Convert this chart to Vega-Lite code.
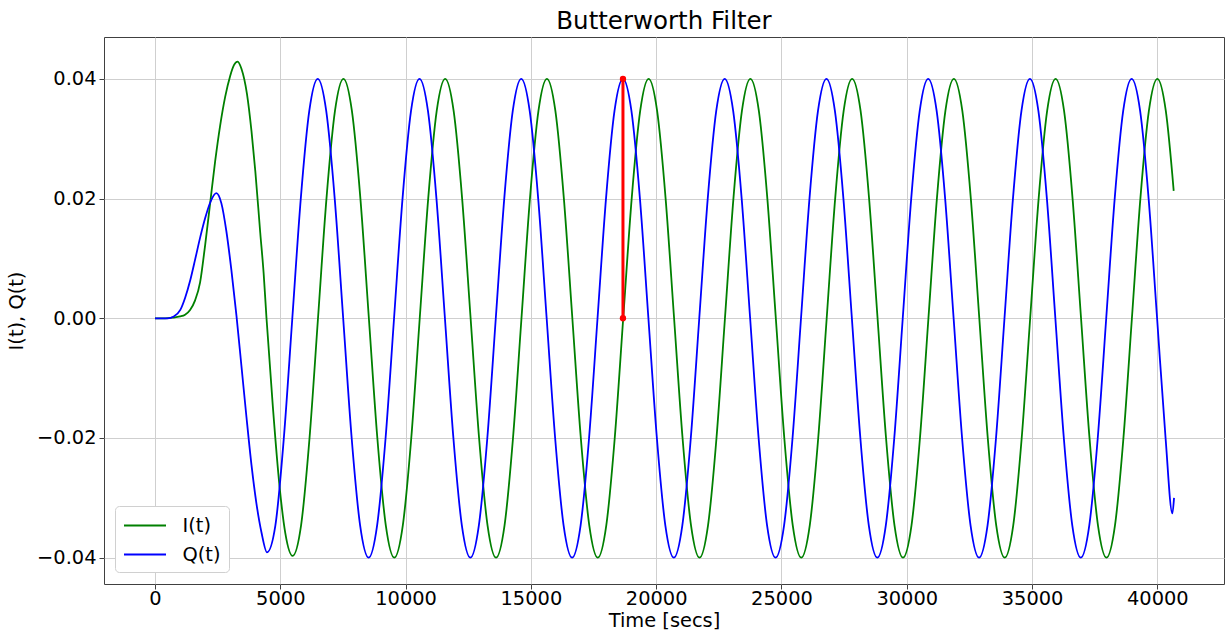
{
  "$schema": "https://vega.github.io/schema/vega-lite/v6.json",
  "autosize": {"type": "none"},
  "padding": {"left": 104, "top": 37, "right": 1, "bottom": 49},
  "width": 1120,
  "height": 547,
  "background": "white",
  "title": {"text": "Butterworth Filter", "fontSize": 24.5, "font": "DejaVu Sans", "fontWeight": "normal", "color": "#000000", "offset": 3},
  "config": {
    "view": {"stroke": "#404040", "strokeWidth": 1},
    "axis": {
      "labelFont": "DejaVu Sans", "titleFont": "DejaVu Sans",
      "labelFontSize": 19.4, "titleFontSize": 19.4,
      "labelColor": "#000000", "titleColor": "#000000",
      "titleFontWeight": "normal",
      "domain": false,
      "tickColor": "#404040", "tickSize": 5,
      "gridColor": "#cfcfcf", "gridWidth": 1,
      "labelPadding": 3
    },
    "legend": {
      "labelFont": "DejaVu Sans", "labelFontSize": 19.4, "labelColor": "#000000"
    }
  },
  "datasets": {
    "iq": [
      {"s":"I(t)","t":0,"v":0},{"s":"I(t)","t":400,"v":0},{"s":"I(t)","t":700,"v":0.0001},{"s":"I(t)","t":1000,"v":0.0003},
      {"s":"I(t)","t":1200,"v":0.0006},{"s":"I(t)","t":1400,"v":0.0014},{"s":"I(t)","t":1600,"v":0.003},{"s":"I(t)","t":1800,"v":0.006},
      {"s":"I(t)","t":2000,"v":0.0122},{"s":"I(t)","t":2200,"v":0.0192},{"s":"I(t)","t":2400,"v":0.0262},{"s":"I(t)","t":2600,"v":0.0322},
      {"s":"I(t)","t":2800,"v":0.037},{"s":"I(t)","t":3000,"v":0.0405},{"s":"I(t)","t":3150,"v":0.0423},{"s":"I(t)","t":3297,"v":0.0429},
      {"s":"I(t)","t":3450,"v":0.0417},{"s":"I(t)","t":3670,"v":0.0375},{"s":"I(t)","t":3850,"v":0.0313},{"s":"I(t)","t":4003,"v":0.0246},
      {"s":"I(t)","t":4200,"v":0.0143},{"s":"I(t)","t":4336,"v":0.0075},{"s":"I(t)","t":4450,"v":0},{"s":"I(t)","t":4700,"v":-0.0146},
      {"s":"I(t)","t":4973,"v":-0.0282},{"s":"I(t)","t":5200,"v":-0.0359},{"s":"I(t)","t":5491,"v":-0.0397},{"s":"I(t)","t":5828,"v":-0.03464},
      {"s":"I(t)","t":6167,"v":-0.02},{"s":"I(t)","t":6505,"v":0},{"s":"I(t)","t":6843,"v":0.02},{"s":"I(t)","t":7182,"v":0.03464},
      {"s":"I(t)","t":7520,"v":0.04},{"s":"I(t)","t":7858,"v":0.03464},{"s":"I(t)","t":8197,"v":0.02},{"s":"I(t)","t":8535,"v":0},{"s":"I(t)","t":8873,"v":-0.02},{"s":"I(t)","t":9212,"v":-0.03464},{"s":"I(t)","t":9550,"v":-0.04},{"s":"I(t)","t":9888,"v":-0.03464},{"s":"I(t)","t":10227,"v":-0.02},{"s":"I(t)","t":10565,"v":0},{"s":"I(t)","t":10903,"v":0.02},{"s":"I(t)","t":11242,"v":0.03464},
      {"s":"I(t)","t":11580,"v":0.04},{"s":"I(t)","t":11918,"v":0.03464},{"s":"I(t)","t":12257,"v":0.02},{"s":"I(t)","t":12595,"v":0},{"s":"I(t)","t":12933,"v":-0.02},{"s":"I(t)","t":13272,"v":-0.03464},{"s":"I(t)","t":13610,"v":-0.04},{"s":"I(t)","t":13948,"v":-0.03464},{"s":"I(t)","t":14287,"v":-0.02},{"s":"I(t)","t":14625,"v":0},{"s":"I(t)","t":14963,"v":0.02},{"s":"I(t)","t":15302,"v":0.03464},
      {"s":"I(t)","t":15640,"v":0.04},{"s":"I(t)","t":15978,"v":0.03464},{"s":"I(t)","t":16317,"v":0.02},{"s":"I(t)","t":16655,"v":0},{"s":"I(t)","t":16993,"v":-0.02},{"s":"I(t)","t":17332,"v":-0.03464},{"s":"I(t)","t":17670,"v":-0.04},{"s":"I(t)","t":18008,"v":-0.03464},{"s":"I(t)","t":18347,"v":-0.02},{"s":"I(t)","t":18685,"v":0},{"s":"I(t)","t":19023,"v":0.02},{"s":"I(t)","t":19362,"v":0.03464},
      {"s":"I(t)","t":19700,"v":0.04},{"s":"I(t)","t":20038,"v":0.03464},{"s":"I(t)","t":20377,"v":0.02},{"s":"I(t)","t":20715,"v":0},{"s":"I(t)","t":21053,"v":-0.02},{"s":"I(t)","t":21392,"v":-0.03464},{"s":"I(t)","t":21730,"v":-0.04},{"s":"I(t)","t":22068,"v":-0.03464},{"s":"I(t)","t":22407,"v":-0.02},{"s":"I(t)","t":22745,"v":0},{"s":"I(t)","t":23083,"v":0.02},{"s":"I(t)","t":23422,"v":0.03464},
      {"s":"I(t)","t":23760,"v":0.04},{"s":"I(t)","t":24098,"v":0.03464},{"s":"I(t)","t":24437,"v":0.02},{"s":"I(t)","t":24775,"v":0},{"s":"I(t)","t":25113,"v":-0.02},{"s":"I(t)","t":25452,"v":-0.03464},{"s":"I(t)","t":25790,"v":-0.04},{"s":"I(t)","t":26128,"v":-0.03464},{"s":"I(t)","t":26467,"v":-0.02},{"s":"I(t)","t":26805,"v":0},{"s":"I(t)","t":27143,"v":0.02},{"s":"I(t)","t":27482,"v":0.03464},
      {"s":"I(t)","t":27820,"v":0.04},{"s":"I(t)","t":28158,"v":0.03464},{"s":"I(t)","t":28497,"v":0.02},{"s":"I(t)","t":28835,"v":0},{"s":"I(t)","t":29173,"v":-0.02},{"s":"I(t)","t":29512,"v":-0.03464},{"s":"I(t)","t":29850,"v":-0.04},{"s":"I(t)","t":30188,"v":-0.03464},{"s":"I(t)","t":30527,"v":-0.02},{"s":"I(t)","t":30865,"v":0},{"s":"I(t)","t":31203,"v":0.02},{"s":"I(t)","t":31542,"v":0.03464},
      {"s":"I(t)","t":31880,"v":0.04},{"s":"I(t)","t":32218,"v":0.03464},{"s":"I(t)","t":32557,"v":0.02},{"s":"I(t)","t":32895,"v":0},{"s":"I(t)","t":33233,"v":-0.02},{"s":"I(t)","t":33572,"v":-0.03464},{"s":"I(t)","t":33910,"v":-0.04},{"s":"I(t)","t":34248,"v":-0.03464},{"s":"I(t)","t":34587,"v":-0.02},{"s":"I(t)","t":34925,"v":0},{"s":"I(t)","t":35263,"v":0.02},{"s":"I(t)","t":35602,"v":0.03464},
      {"s":"I(t)","t":35940,"v":0.04},{"s":"I(t)","t":36278,"v":0.03464},{"s":"I(t)","t":36617,"v":0.02},{"s":"I(t)","t":36955,"v":0},{"s":"I(t)","t":37293,"v":-0.02},{"s":"I(t)","t":37632,"v":-0.03464},{"s":"I(t)","t":37970,"v":-0.04},{"s":"I(t)","t":38308,"v":-0.03464},{"s":"I(t)","t":38647,"v":-0.02},{"s":"I(t)","t":38985,"v":0},{"s":"I(t)","t":39323,"v":0.02},{"s":"I(t)","t":39662,"v":0.03464},
      {"s":"I(t)","t":40000,"v":0.04},{"s":"I(t)","t":40338,"v":0.03464},{"s":"I(t)","t":40653,"v":0.0213},

      {"s":"Q(t)","t":0,"v":0},{"s":"Q(t)","t":500,"v":0},{"s":"Q(t)","t":750,"v":0.0003},{"s":"Q(t)","t":1010,"v":0.0014},
      {"s":"Q(t)","t":1200,"v":0.0034},{"s":"Q(t)","t":1409,"v":0.0064},{"s":"Q(t)","t":1600,"v":0.0098},{"s":"Q(t)","t":1808,"v":0.0136},
      {"s":"Q(t)","t":2000,"v":0.0167},{"s":"Q(t)","t":2200,"v":0.0193},{"s":"Q(t)","t":2446,"v":0.0209},{"s":"Q(t)","t":2650,"v":0.0192},
      {"s":"Q(t)","t":2850,"v":0.0145},{"s":"Q(t)","t":3050,"v":0.008},{"s":"Q(t)","t":3250,"v":0.0005},{"s":"Q(t)","t":3450,"v":-0.008},
      {"s":"Q(t)","t":3650,"v":-0.0165},{"s":"Q(t)","t":3850,"v":-0.0245},{"s":"Q(t)","t":4050,"v":-0.031},{"s":"Q(t)","t":4250,"v":-0.0358},
      {"s":"Q(t)","t":4470,"v":-0.0391},{"s":"Q(t)","t":4803,"v":-0.03464},{"s":"Q(t)","t":5142,"v":-0.02},{"s":"Q(t)","t":5480,"v":0},
      {"s":"Q(t)","t":5818,"v":0.02},{"s":"Q(t)","t":6157,"v":0.03464},
      {"s":"Q(t)","t":6495,"v":0.04},{"s":"Q(t)","t":6833,"v":0.03464},{"s":"Q(t)","t":7172,"v":0.02},{"s":"Q(t)","t":7510,"v":0},{"s":"Q(t)","t":7848,"v":-0.02},{"s":"Q(t)","t":8187,"v":-0.03464},{"s":"Q(t)","t":8525,"v":-0.04},{"s":"Q(t)","t":8863,"v":-0.03464},{"s":"Q(t)","t":9202,"v":-0.02},{"s":"Q(t)","t":9540,"v":0},{"s":"Q(t)","t":9878,"v":0.02},{"s":"Q(t)","t":10217,"v":0.03464},
      {"s":"Q(t)","t":10555,"v":0.04},{"s":"Q(t)","t":10893,"v":0.03464},{"s":"Q(t)","t":11232,"v":0.02},{"s":"Q(t)","t":11570,"v":0},{"s":"Q(t)","t":11908,"v":-0.02},{"s":"Q(t)","t":12247,"v":-0.03464},{"s":"Q(t)","t":12585,"v":-0.04},{"s":"Q(t)","t":12923,"v":-0.03464},{"s":"Q(t)","t":13262,"v":-0.02},{"s":"Q(t)","t":13600,"v":0},{"s":"Q(t)","t":13938,"v":0.02},{"s":"Q(t)","t":14277,"v":0.03464},
      {"s":"Q(t)","t":14615,"v":0.04},{"s":"Q(t)","t":14953,"v":0.03464},{"s":"Q(t)","t":15292,"v":0.02},{"s":"Q(t)","t":15630,"v":0},{"s":"Q(t)","t":15968,"v":-0.02},{"s":"Q(t)","t":16307,"v":-0.03464},{"s":"Q(t)","t":16645,"v":-0.04},{"s":"Q(t)","t":16983,"v":-0.03464},{"s":"Q(t)","t":17322,"v":-0.02},{"s":"Q(t)","t":17660,"v":0},{"s":"Q(t)","t":17998,"v":0.02},{"s":"Q(t)","t":18337,"v":0.03464},
      {"s":"Q(t)","t":18675,"v":0.04},{"s":"Q(t)","t":19013,"v":0.03464},{"s":"Q(t)","t":19352,"v":0.02},{"s":"Q(t)","t":19690,"v":0},{"s":"Q(t)","t":20028,"v":-0.02},{"s":"Q(t)","t":20367,"v":-0.03464},{"s":"Q(t)","t":20705,"v":-0.04},{"s":"Q(t)","t":21043,"v":-0.03464},{"s":"Q(t)","t":21382,"v":-0.02},{"s":"Q(t)","t":21720,"v":0},{"s":"Q(t)","t":22058,"v":0.02},{"s":"Q(t)","t":22397,"v":0.03464},
      {"s":"Q(t)","t":22735,"v":0.04},{"s":"Q(t)","t":23073,"v":0.03464},{"s":"Q(t)","t":23412,"v":0.02},{"s":"Q(t)","t":23750,"v":0},{"s":"Q(t)","t":24088,"v":-0.02},{"s":"Q(t)","t":24427,"v":-0.03464},{"s":"Q(t)","t":24765,"v":-0.04},{"s":"Q(t)","t":25103,"v":-0.03464},{"s":"Q(t)","t":25442,"v":-0.02},{"s":"Q(t)","t":25780,"v":0},{"s":"Q(t)","t":26118,"v":0.02},{"s":"Q(t)","t":26457,"v":0.03464},
      {"s":"Q(t)","t":26795,"v":0.04},{"s":"Q(t)","t":27133,"v":0.03464},{"s":"Q(t)","t":27472,"v":0.02},{"s":"Q(t)","t":27810,"v":0},{"s":"Q(t)","t":28148,"v":-0.02},{"s":"Q(t)","t":28487,"v":-0.03464},{"s":"Q(t)","t":28825,"v":-0.04},{"s":"Q(t)","t":29163,"v":-0.03464},{"s":"Q(t)","t":29502,"v":-0.02},{"s":"Q(t)","t":29840,"v":0},{"s":"Q(t)","t":30178,"v":0.02},{"s":"Q(t)","t":30517,"v":0.03464},
      {"s":"Q(t)","t":30855,"v":0.04},{"s":"Q(t)","t":31193,"v":0.03464},{"s":"Q(t)","t":31532,"v":0.02},{"s":"Q(t)","t":31870,"v":0},{"s":"Q(t)","t":32208,"v":-0.02},{"s":"Q(t)","t":32547,"v":-0.03464},{"s":"Q(t)","t":32885,"v":-0.04},{"s":"Q(t)","t":33223,"v":-0.03464},{"s":"Q(t)","t":33562,"v":-0.02},{"s":"Q(t)","t":33900,"v":0},{"s":"Q(t)","t":34238,"v":0.02},{"s":"Q(t)","t":34577,"v":0.03464},
      {"s":"Q(t)","t":34915,"v":0.04},{"s":"Q(t)","t":35253,"v":0.03464},{"s":"Q(t)","t":35592,"v":0.02},{"s":"Q(t)","t":35930,"v":0},{"s":"Q(t)","t":36268,"v":-0.02},{"s":"Q(t)","t":36607,"v":-0.03464},{"s":"Q(t)","t":36945,"v":-0.04},{"s":"Q(t)","t":37283,"v":-0.03464},{"s":"Q(t)","t":37622,"v":-0.02},{"s":"Q(t)","t":37960,"v":0},{"s":"Q(t)","t":38298,"v":0.02},{"s":"Q(t)","t":38637,"v":0.03464},
      {"s":"Q(t)","t":38975,"v":0.04},{"s":"Q(t)","t":39313,"v":0.03464},{"s":"Q(t)","t":39652,"v":0.02},{"s":"Q(t)","t":39990,"v":0},{"s":"Q(t)","t":40328,"v":-0.02},{"s":"Q(t)","t":40600,"v":-0.0326},{"s":"Q(t)","t":40666,"v":-0.03}
    ],
    "marker": [
      {"t":18675,"v":0},{"t":18675,"v":0.04}
    ]
  },
  "layer": [
    {
      "data": {"name": "iq"},
      "mark": {"type": "line", "interpolate": "monotone", "strokeWidth": 1.8, "clip": true},
      "encoding": {
        "x": {"field": "t", "type": "quantitative", "scale": {"domain": [-2035, 42660], "nice": false, "zero": false},
              "axis": {"title": "Time [secs]", "values": [0,5000,10000,15000,20000,25000,30000,35000,40000], "format": "d", "grid": true, "labelPadding": 0, "titlePadding": 4}},
        "y": {"field": "v", "type": "quantitative", "scale": {"domain": [-0.0444, 0.047], "nice": false, "zero": false},
              "axis": {"title": "I(t), Q(t)", "values": [-0.04,-0.02,0,0.02,0.04], "format": ".2f", "grid": true, "titlePadding": 10}},
        "color": {"field": "s", "type": "nominal",
                  "scale": {"domain": ["I(t)","Q(t)"], "range": ["#008000","#0000ff"]},
                  "legend": {"title": null, "orient": "none", "legendX": 11, "legendY": 469,
                             "symbolType": "M-2,0H2", "symbolSize": 441, "symbolStrokeWidth": 2, "symbolOffset": 10.5,
                             "labelOffset": 26, "rowPadding": 8, "padding": 8,
                             "fillColor": "white", "strokeColor": "#d0d0d0", "cornerRadius": 4}}
      }
    },
    {
      "data": {"name": "marker"},
      "mark": {"type": "line", "color": "#ff0000", "strokeWidth": 3, "point": {"filled": true, "size": 40, "color": "#ff0000"}},
      "encoding": {
        "x": {"field": "t", "type": "quantitative"},
        "y": {"field": "v", "type": "quantitative"}
      }
    }
  ]
}
